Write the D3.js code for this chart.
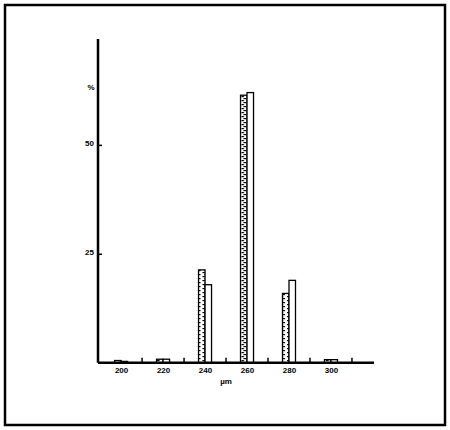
<!DOCTYPE html>
<html>
<head>
<meta charset="utf-8">
<script src="https://cdn.jsdelivr.net/npm/d3@7"></script>
<style>
  body { margin: 0; background: #fff; }
  text { font-family: "Liberation Sans", Arial, sans-serif; font-weight: bold; font-size: 8px; fill: #000; }
</style>
</head>
<body>
<div id="wrapper"></div>
<script>
// data (percent per size class, µm)
const sizes = [200, 220, 240, 260, 280, 300]
const seriesA = [0.5, 0.8, 21.3, 61.4, 15.9, 0.7]   // hatched bars
const seriesB = [0.3, 0.8, 17.9, 62.0, 18.9, 0.7]   // open bars
const minorTicks = [210, 230, 250, 270, 290, 310]
const yTicks = [25, 50]

window.addEventListener("load", paint)

function paint() {
    const svg = d3.select("#wrapper")
        .append("svg")
            .attr("width", 450)
            .attr("height", 430)

    // outer frame
    svg.append("rect")
        .attr("x", 5).attr("y", 5)
        .attr("width", 440).attr("height", 420)
        .attr("fill", "none").attr("stroke", "#000").attr("stroke-width", 2.5)

    const x = d3.scaleLinear().domain([189, 320.5]).range([98, 374])
    const y = d3.scaleLinear().domain([0, 74.3]).range([362.7, 39])
    const barW = 6.5

    // hatch pattern (little alternating dashes, like the print)
    const defs = svg.append("defs")
    const pat = defs.append("pattern")
        .attr("id", "hatch").attr("patternUnits", "userSpaceOnUse")
        .attr("width", 6.5).attr("height", 4)
    pat.append("rect").attr("width", 6.5).attr("height", 4).attr("fill", "#fff")
    pat.append("rect").attr("x", 1).attr("y", 0).attr("width", 2.5).attr("height", 1.2).attr("fill", "#000")
    pat.append("rect").attr("x", 3).attr("y", 2).attr("width", 2.5).attr("height", 1.2).attr("fill", "#000")

    const bars = svg.append("g")
    bars.selectAll(".a").data(sizes).join("rect")
        .attr("x", d => x(d) - barW)
        .attr("y", (d, i) => y(seriesA[i]))
        .attr("width", barW)
        .attr("height", (d, i) => y(0) - y(seriesA[i]))
        .attr("fill", "url(#hatch)")
        .attr("stroke", "#000").attr("stroke-width", 1.3)
    bars.selectAll(".b").data(sizes).join("rect")
        .attr("x", d => x(d))
        .attr("y", (d, i) => y(seriesB[i]))
        .attr("width", barW)
        .attr("height", (d, i) => y(0) - y(seriesB[i]))
        .attr("fill", "#fff")
        .attr("stroke", "#000").attr("stroke-width", 1.3)

    // x axis
    const xAxis = svg.append("g")
        .attr("transform", `translate(0,${y(0)})`)
        .call(d3.axisBottom(x).tickValues(sizes).tickSize(0).tickPadding(5))
    xAxis.select(".domain").attr("stroke-width", 2.5).attr("d", `M${x.range()[0]},0H${x.range()[1]}`)
    xAxis.selectAll("text").attr("font-size", 8.5)

    svg.append("g").selectAll("line").data(minorTicks).join("line")
        .attr("x1", d => x(d)).attr("x2", d => x(d))
        .attr("y1", y(0)).attr("y2", y(0) - 5)
        .attr("stroke", "#000").attr("stroke-width", 1.5)

    // y axis
    const yAxis = svg.append("g")
        .attr("transform", `translate(${x(189)},0)`)
        .call(d3.axisLeft(y).tickValues(yTicks).tickSize(-4).tickPadding(4))
    yAxis.select(".domain").attr("stroke-width", 2.5).attr("d", `M0,${y.range()[0]}V${y.range()[1]}`)
    yAxis.selectAll(".tick line").attr("stroke-width", 1.5)
    yAxis.selectAll("text").attr("font-size", 8.5).attr("dy", "0.1em")

    svg.append("text")
        .attr("x", 91).attr("y", y(62.6))
        .attr("text-anchor", "middle")
        .attr("font-size", 8.5)
        .text("%")

    svg.append("text")
        .attr("x", 226).attr("y", 384)
        .attr("text-anchor", "middle")
        .attr("font-size", 8.5)
        .text("µm")
}
</script>
</body>
</html>
